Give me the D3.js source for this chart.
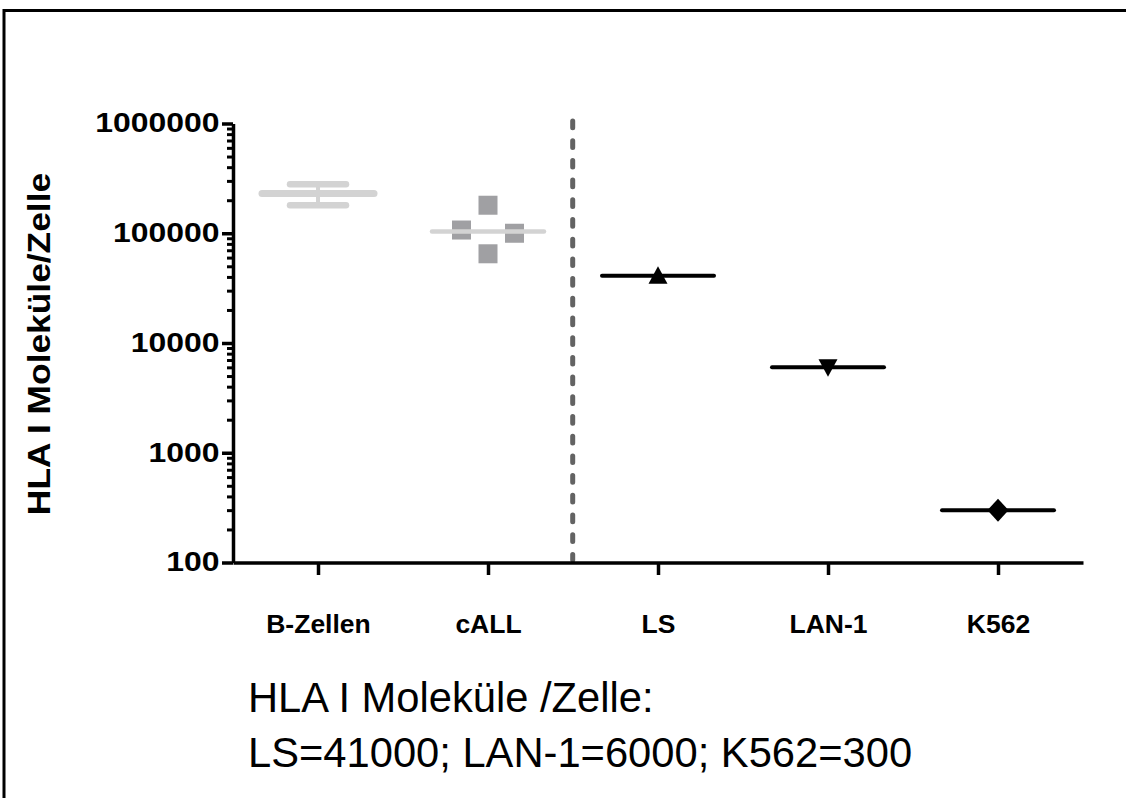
<!DOCTYPE html>
<html>
<head>
<meta charset="utf-8">
<script src="https://cdn.jsdelivr.net/npm/d3@7"></script>
<style>
  html, body { margin: 0; padding: 0; background: #fff; }
  svg { display: block; }
  text { font-family: "Liberation Sans", Arial, sans-serif; fill: #000; }
</style>
</head>
<body>
<svg id="chart" width="1126" height="798"></svg>
<script>
// Categories along the x axis
const categories = ["B-Zellen", "cALL", "LS", "LAN-1", "K562"];

// B-Zellen: summary only (mean ± SD)
const bZellenMean = 230000;
const bZellenSD = 50000;

// cALL: individual samples (line drawn at the median)
const callValues = [180000, 107000, 100000, 65000];

// Cell lines: single values
const cellLines = ["LS", "LAN-1", "K562"];
const cellLineValues = [41000, 6000, 300];
const cellLineSymbols = ["triangleUp", "triangleDown", "diamond"];

// Y axis major tick values
const yTickValues = [100, 1000, 10000, 100000, 1000000];

// Caption lines below the chart
const captionLines = ["HLA I Moleküle /Zelle:", "LS=41000; LAN-1=6000; K562=300"];

const svg = d3.select("#chart");

// Outer frame (top and left edges visible)
svg.append("rect")
  .attr("x", 4).attr("y", 10.5)
  .attr("width", 1200).attr("height", 900)
  .attr("fill", "none").attr("stroke", "#000").attr("stroke-width", 3);

const x = d3.scalePoint().domain(categories).range([233, 1083]).padding(0.5);
const y = d3.scaleLog().domain([100, 1000000]).range([562.5, 123.5]);

// Dashed separator between patient samples and cell lines
const sepX = (x("cALL") + x("LS")) / 2 - 0.3;
svg.append("line")
  .attr("x1", sepX).attr("x2", sepX)
  .attr("y1", 121).attr("y2", 560)
  .attr("stroke", "#636363").attr("stroke-width", 5)
  .attr("stroke-linecap", "round")
  .attr("stroke-dasharray", "6.7 13");

// B-Zellen: mean line with SD error bar
const gB = svg.append("g").attr("stroke", "#d3d3d3").attr("stroke-linecap", "round").attr("fill", "none");
const bx = x("B-Zellen");
gB.append("line")
  .attr("x1", bx).attr("x2", bx)
  .attr("y1", y(bZellenMean + bZellenSD)).attr("y2", y(bZellenMean - bZellenSD))
  .attr("stroke-width", 4);
[bZellenMean + bZellenSD, bZellenMean - bZellenSD].forEach(v => {
  gB.append("line")
    .attr("x1", bx - 28).attr("x2", bx + 28)
    .attr("y1", y(v)).attr("y2", y(v))
    .attr("stroke-width", 6.5);
});
gB.append("line")
  .attr("x1", bx - 56).attr("x2", bx + 56)
  .attr("y1", y(bZellenMean)).attr("y2", y(bZellenMean))
  .attr("stroke-width", 7);

// cALL: scatter of samples, spread sideways where they overlap
const cx = x("cALL");
const symSize = 19;
const sorted = callValues.slice().sort((a, b) => b - a);
const groups = [];
sorted.forEach(v => {
  const last = groups[groups.length - 1];
  if (last && Math.abs(y(v) - y(last[last.length - 1])) < symSize) last.push(v);
  else groups.push([v]);
});
const callPoints = [];
groups.forEach(g => g.forEach((v, i) => callPoints.push({ v, dx: (i - (g.length - 1) / 2) * 53 })));

svg.append("g").selectAll("rect")
  .data(callPoints)
  .join("rect")
  .attr("x", d => cx + d.dx - symSize / 2)
  .attr("y", d => y(d.v) - symSize / 2)
  .attr("width", symSize).attr("height", symSize)
  .attr("fill", "#a0a0a3");

const callMedian = d3.median(callValues);
svg.append("line")
  .attr("x1", cx - 56).attr("x2", cx + 56)
  .attr("y1", y(callMedian)).attr("y2", y(callMedian))
  .attr("stroke", "#d3d3d3").attr("stroke-width", 4.5).attr("stroke-linecap", "round");

// Cell lines: value line with marker
const symbolPath = {
  triangleUp: "M0,-9.5 L9.5,8 L-9.5,8 Z",
  triangleDown: "M0,9.5 L9.5,-8 L-9.5,-8 Z",
  diamond: "M0,-11.5 L10.5,0 L0,11.5 L-10.5,0 Z"
};
const gC = svg.append("g");
cellLines.forEach((c, i) => {
  const px = x(c), py = y(cellLineValues[i]);
  gC.append("line")
    .attr("x1", px - 56).attr("x2", px + 56)
    .attr("y1", py).attr("y2", py)
    .attr("stroke", "#000").attr("stroke-width", 4).attr("stroke-linecap", "round");
  gC.append("path")
    .attr("d", symbolPath[cellLineSymbols[i]])
    .attr("transform", `translate(${px},${py})`)
    .attr("fill", "#000");
});

// Y axis: minor ticks
const minorTicks = y.ticks().filter(v => !yTickValues.includes(v));
svg.append("g")
  .attr("transform", "translate(233,0)")
  .call(d3.axisLeft(y).tickValues(minorTicks).tickSize(6).tickSizeOuter(0).tickFormat(""))
  .call(g => g.select(".domain").remove())
  .call(g => g.selectAll(".tick line").attr("stroke-width", 3));

// Y axis: major ticks and labels
const yAxis = svg.append("g")
  .attr("transform", "translate(233,0)")
  .call(d3.axisLeft(y).tickValues(yTickValues).tickSize(11).tickSizeOuter(0).tickFormat(d3.format("d")));
yAxis.select(".domain").attr("stroke-width", 3.5);
yAxis.selectAll(".tick line").attr("stroke-width", 3.5);
yAxis.selectAll(".tick text")
  .attr("font-size", 28).attr("font-weight", "bold")
  .attr("x", 0).attr("dy", "0.3em")
  .attr("transform", "translate(-13.5,0) scale(1.14,1)");

// X axis
const xAxis = svg.append("g")
  .attr("transform", "translate(0,562.5)")
  .call(d3.axisBottom(x).tickSize(12.5).tickSizeOuter(0));
xAxis.select(".domain").attr("stroke-width", 3.5);
xAxis.selectAll(".tick line").attr("stroke-width", 3.5);
xAxis.selectAll(".tick text")
  .attr("font-size", 26.5).attr("font-weight", "bold")
  .attr("y", 70.5).attr("dy", 0);

// Y axis title
svg.append("text")
  .attr("transform", "translate(50,344) rotate(-90) scale(1.14,1)")
  .attr("text-anchor", "middle")
  .attr("font-size", 31).attr("font-weight", "bold")
  .text("HLA I Moleküle/Zelle");

// Caption
svg.append("g").selectAll("text")
  .data(captionLines)
  .join("text")
  .attr("x", 248)
  .attr("y", (d, i) => 712 + i * 55)
  .attr("font-size", 41.7)
  .text(d => d);
</script>
</body>
</html>
